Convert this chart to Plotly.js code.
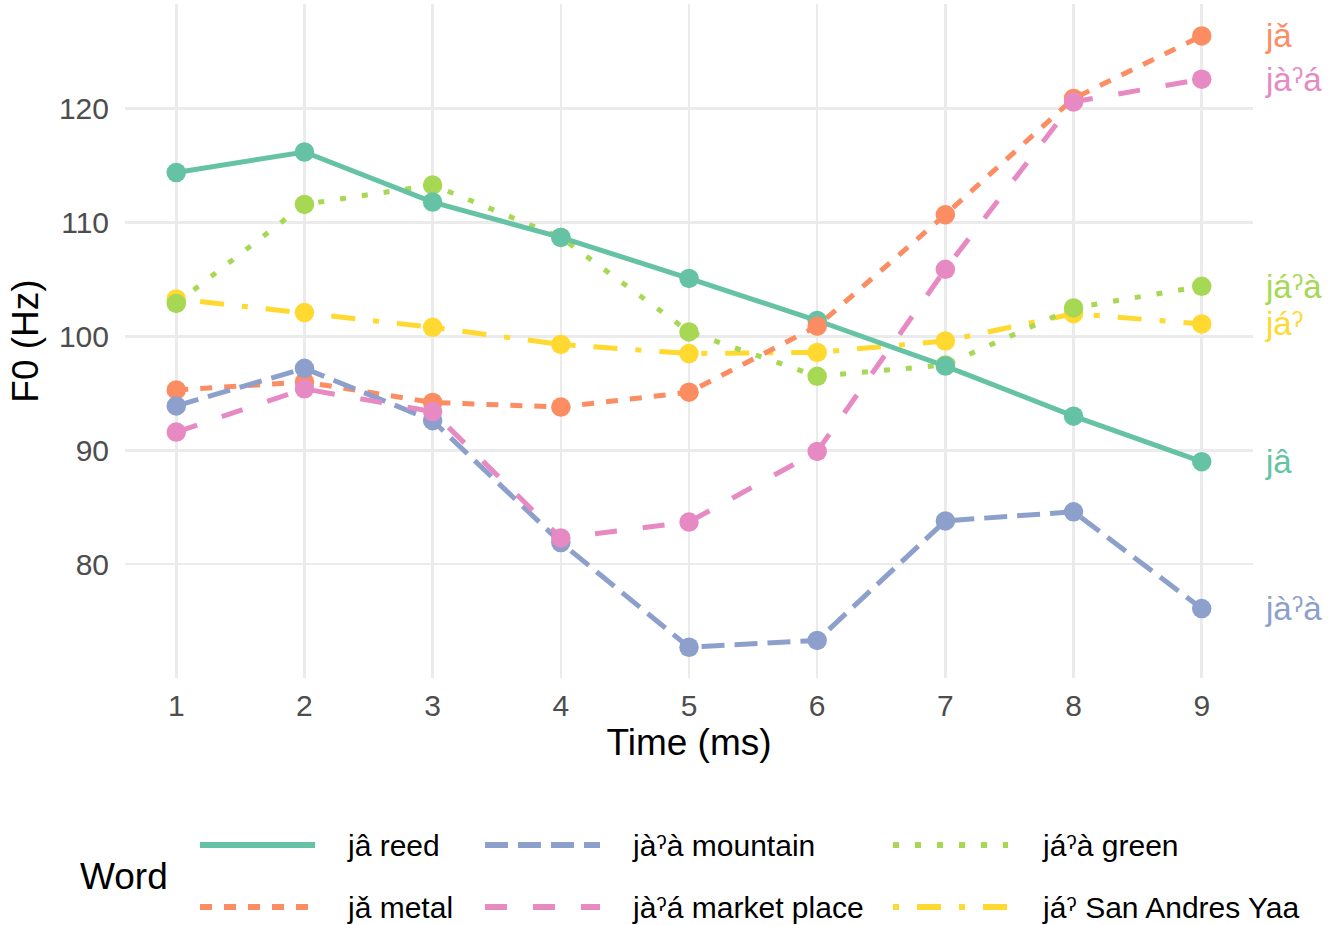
<!DOCTYPE html>
<html>
<head>
<meta charset="utf-8">
<script src="https://cdn.plot.ly/plotly-3.0.1.min.js"></script>
<style>html,body{margin:0;padding:0;background:#fff;}#chart{width:1336px;height:925px;}</style>
</head>
<body>
<div id="chart"></div>
<script>
// ---- data ----
const times = [1, 2, 3, 4, 5, 6, 7, 8, 9];
const wordNames = ['jâ reed', 'jǎ metal', 'jàˀà mountain', 'jàˀá market place', 'jáˀà green', 'jáˀ San Andres Yaa'];
const endLabels = ['jâ', 'jǎ', 'jàˀà', 'jàˀá', 'jáˀà', 'jáˀ'];
const f0Reed     = [114.4, 116.2, 111.8, 108.7, 105.1, 101.4, 97.4, 93.0, 89.0];
const f0Metal    = [95.3, 96.0, 94.2, 93.8, 95.1, 100.9, 110.7, 120.9, 126.4];
const f0Mountain = [93.9, 97.2, 92.6, 81.9, 72.7, 73.3, 83.8, 84.6, 76.1];
const f0Market   = [91.6, 95.4, 93.4, 82.3, 83.7, 89.9, 105.9, 120.6, 122.6];
const f0Green    = [102.9, 111.6, 113.3, 108.7, 100.4, 96.5, 97.5, 102.5, 104.4];
const f0Yaa      = [103.3, 102.1, 100.8, 99.3, 98.5, 98.6, 99.6, 102.0, 101.1];
const seriesValues = [f0Reed, f0Metal, f0Mountain, f0Market, f0Green, f0Yaa];

// ---- styles ----
const colors = ['#66C2A5', '#FC8D62', '#8DA0CB', '#E78AC3', '#A6D854', '#FFD92F'];
const dashes = ['solid', '12px,12px', '23px,10px', '22px,26px', '6px,16px', '6px,18px,24px,18px'];
const drawOrder = [5, 4, 0, 1, 2, 3];

const W = 1336, H = 925, L = 125, R = 83, T = 4, B = 247;
const pw = W - L - R, ph = H - T - B;
const px2x = px => (px - L) / pw;
const py2y = py => (H - B - py) / ph;
const FONT = '"Liberation Sans", Arial, "DejaVu Sans", sans-serif';

const traces = [];
drawOrder.forEach(i => {
  traces.push({
    x: times, y: seriesValues[i], type: 'scatter', mode: 'lines', name: wordNames[i],
    line: {color: colors[i], width: 5, dash: dashes[i]}, showlegend: false, hoverinfo: 'skip'
  });
});
drawOrder.forEach(i => {
  traces.push({
    x: times, y: seriesValues[i], type: 'scatter', mode: 'markers', name: wordNames[i],
    marker: {color: colors[i], size: 19.5}, showlegend: false
  });
});

const annotations = [];
const shapes = [];
// end-of-line labels
seriesValues.forEach((vals, i) => {
  annotations.push({
    x: times[times.length - 1], y: vals[vals.length - 1], xref: 'x', yref: 'y',
    text: endLabels[i], showarrow: false, xanchor: 'left', yanchor: 'middle', xshift: 61,
    font: {family: FONT, size: 33, color: colors[i]}
  });
});
// manual legend
const colLineX = [200, 485, 893];
const colTextX = [345, 630, 1040];
const rowY = [845, 907];
wordNames.forEach((nm, i) => {
  const c = Math.floor(i / 2), r = i % 2;
  shapes.push({
    type: 'line', xref: 'paper', yref: 'paper',
    x0: px2x(colLineX[c]), x1: px2x(colLineX[c] + 115), y0: py2y(rowY[r]), y1: py2y(rowY[r]),
    line: {color: colors[i], width: 6, dash: dashes[i]}
  });
  annotations.push({
    x: px2x(colTextX[c]), y: py2y(rowY[r]), xref: 'paper', yref: 'paper',
    text: nm, showarrow: false, xanchor: 'left', yanchor: 'middle',
    font: {family: FONT, size: 30, color: '#000'}
  });
});
annotations.push({
  x: px2x(78), y: py2y(876), xref: 'paper', yref: 'paper', text: 'Word', showarrow: false,
  xanchor: 'left', yanchor: 'middle', font: {family: FONT, size: 37, color: '#000'}
});

const layout = {
  width: W, height: H,
  margin: {l: L, r: R, t: T, b: B, pad: 0},
  paper_bgcolor: '#fff', plot_bgcolor: '#fff',
  font: {family: FONT, color: '#4D4D4D'},
  showlegend: false,
  xaxis: {
    range: [0.6, 9.4], tickvals: times, ticktext: times.map(String),
    showgrid: true, gridcolor: '#EBEBEB', gridwidth: 2.5, zeroline: false, showline: false,
    ticks: '', ticklabelstandoff: 7, tickfont: {family: FONT, size: 30, color: '#4D4D4D'},
    title: {text: 'Time (ms)', font: {family: FONT, size: 37, color: '#000'}, standoff: 4},
    automargin: false
  },
  yaxis: {
    range: [70.0, 129.2], tickvals: [80, 90, 100, 110, 120],
    showgrid: true, gridcolor: '#EBEBEB', gridwidth: 2.5, zeroline: false, showline: false,
    ticks: '', ticklabelstandoff: 15, tickfont: {family: FONT, size: 30, color: '#4D4D4D'},
    title: {text: 'F0 (Hz)', font: {family: FONT, size: 37, color: '#000'}, standoff: 8},
    automargin: false
  },
  annotations: annotations,
  shapes: shapes
};

Plotly.newPlot('chart', traces, layout, {displayModeBar: false, staticPlot: true});
</script>
</body>
</html>
